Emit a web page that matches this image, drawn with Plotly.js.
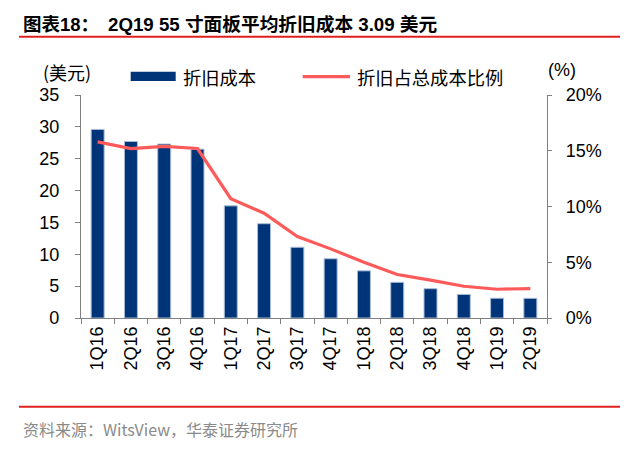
<!DOCTYPE html>
<html>
<head>
<meta charset="utf-8">
<script src="https://cdn.plot.ly/plotly-3.0.1.min.js"></script>
<style>
html,body{margin:0;padding:0;background:#fff;}
#chart{width:641px;height:459px;}
</style>
</head>
<body>
<div id="chart"></div>
<script>
// ---- data ----
const quarters = ['1Q16','2Q16','3Q16','4Q16','1Q17','2Q17','3Q17','4Q17','1Q18','2Q18','3Q18','4Q18','1Q19','2Q19'];
const depCost = [29.6, 27.7, 27.3, 26.5, 17.6, 14.8, 11.1, 9.3, 7.4, 5.6, 4.6, 3.7, 3.1, 3.09];
const depRatio = [15.8, 15.2, 15.4, 15.2, 10.7, 9.4, 7.3, 6.2, 5.0, 3.9, 3.4, 2.85, 2.58, 2.64];
const seriesNames = ['折旧成本', '折旧占总成本比例'];
const titleLabel = '图表18：';
const titleText = '2Q19 55 寸面板平均折旧成本 3.09 美元';
const leftUnit = '(美元)';
const rightUnit = '(%)';
const sourceText = '资料来源：WitsView，华泰证券研究所';

// ---- layout helpers (pixel -> paper) ----
const W = 641, H = 459;
const L = 81, R = 547, T = 95, B = 318;
const px = x => (x - L) / (R - L);
const py = y => (B - y) / (B - T);

const FONT = 'Liberation Sans, Arial, Noto Sans CJK SC, sans-serif';
const CJK = 'Noto Sans CJK SC, Liberation Sans, sans-serif';
const BAR = '#003478';
const LINE = '#FF5A5A';
const RED = '#E0201E';

const traces = [
  {
    type: 'bar', x: quarters, y: depCost, name: seriesNames[0],
    marker: {color: BAR, line: {color: '#A9BCD8', width: 1}},
    yaxis: 'y', showlegend: false, hoverinfo: 'x+y'
  },
  {
    type: 'scatter', mode: 'lines', x: quarters, y: depRatio, name: seriesNames[1],
    line: {color: LINE, width: 3.2},
    yaxis: 'y2', showlegend: false
  }
];

const layout = {
  width: W, height: H,
  margin: {l: L, r: W - R, t: T, b: H - B},
  paper_bgcolor: '#fff', plot_bgcolor: '#fff',
  font: {family: FONT, size: 18, color: '#000'},
  bargap: 0.61,
  showlegend: false,
  xaxis: {
    type: 'category', tickson: 'boundaries', ticks: 'outside', ticklen: 5, tickwidth: 1,
    tickcolor: '#808080', showline: true, linecolor: '#808080', linewidth: 1.2,
    showgrid: false, tickangle: -90, tickfont: {family: FONT, size: 18, color: '#000'},
    range: [-0.5, 13.5]
  },
  yaxis: {
    range: [0, 35], dtick: 5, tick0: 0, ticks: 'outside', ticklen: 5, tickwidth: 1,
    tickcolor: '#808080', showline: true, linecolor: '#808080', linewidth: 1.2,
    showgrid: false, zeroline: false, ticklabelstandoff: 12,
    tickfont: {family: FONT, size: 18, color: '#000'}
  },
  yaxis2: {
    overlaying: 'y', side: 'right', range: [0, 20], dtick: 5, tick0: 0, ticksuffix: '%',
    ticks: 'outside', ticklen: 4, tickwidth: 1, tickcolor: '#808080',
    showline: true, linecolor: '#808080', linewidth: 1.2, showgrid: false, zeroline: false,
    ticklabelstandoff: 10, tickfont: {family: FONT, size: 18, color: '#000'}
  },
  shapes: [
    {type: 'line', xref: 'paper', yref: 'paper', x0: px(19), x1: px(620), y0: py(36.7), y1: py(36.7),
     line: {color: RED, width: 2}},
    {type: 'line', xref: 'paper', yref: 'paper', x0: px(19), x1: px(620), y0: py(406.7), y1: py(406.7),
     line: {color: RED, width: 2}},
    {type: 'rect', xref: 'paper', yref: 'paper', x0: px(130.7), x1: px(175.7), y0: py(81), y1: py(71.7),
     fillcolor: BAR, line: {width: 0}},
    {type: 'line', xref: 'paper', yref: 'paper', x0: px(302.7), x1: px(350), y0: py(76.7), y1: py(76.7),
     line: {color: LINE, width: 3.2}}
  ],
  annotations: [
    {text: '<b>' + titleLabel + '</b>', xref: 'paper', yref: 'paper', x: px(21), y: py(24),
     xanchor: 'left', yanchor: 'middle', showarrow: false,
     font: {family: FONT, size: 18.5, color: '#000'}},
    {text: '<b>' + titleText + '</b>', xref: 'paper', yref: 'paper', x: px(106), y: py(24),
     xanchor: 'left', yanchor: 'middle', showarrow: false,
     font: {family: FONT, size: 18.7, color: '#000'}},
    {text: leftUnit, xref: 'paper', yref: 'paper', x: px(67), y: py(72),
     xanchor: 'center', yanchor: 'middle', showarrow: false,
     font: {family: CJK, size: 18, color: '#000'}},
    {text: seriesNames[0], xref: 'paper', yref: 'paper', x: px(181), y: py(77),
     xanchor: 'left', yanchor: 'middle', showarrow: false,
     font: {family: CJK, size: 18.3, color: '#000'}},
    {text: seriesNames[1], xref: 'paper', yref: 'paper', x: px(355), y: py(77),
     xanchor: 'left', yanchor: 'middle', showarrow: false,
     font: {family: CJK, size: 18.3, color: '#000'}},
    {text: rightUnit, xref: 'paper', yref: 'paper', x: px(562), y: py(70),
     xanchor: 'center', yanchor: 'middle', showarrow: false,
     font: {family: FONT, size: 18, color: '#000'}},
    {text: sourceText, xref: 'paper', yref: 'paper', x: px(21), y: py(429),
     xanchor: 'left', yanchor: 'middle', showarrow: false,
     font: {family: CJK, size: 16, color: '#8a8a8a'}}
  ]
};

Plotly.newPlot('chart', traces, layout, {displayModeBar: false, staticPlot: true});
</script>
</body>
</html>
